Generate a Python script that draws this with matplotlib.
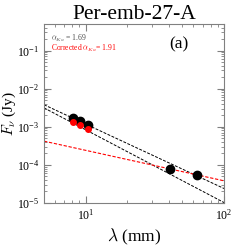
import numpy as np
import matplotlib.pyplot as plt

plt.rcParams['font.family'] = 'serif'
plt.rcParams['font.serif'] = ['Liberation Serif', 'DejaVu Serif']
plt.rcParams['mathtext.fontset'] = 'cm'

# measured fluxes
wave = [8.1, 9.1, 10.3, 40.5, 63.5]          # mm
flux = [1.7e-3, 1.38e-3, 1.13e-3, 7.9e-5, 5.5e-5]  # Jy
wave_corr = [8.1, 9.1, 10.3]
flux_corr = [1.37e-3, 1.13e-3, 8.7e-4]

# power-law fits: (slope, flux at 10 mm)
alpha_ka = 1.69
fit_ka_10 = 1.17e-3
alpha_corr = 1.91
fit_corr_10 = 8.3e-4
alpha_ff = 0.80
fit_ff_10 = 2.4e-4

fig = plt.figure(figsize=(2.49, 2.49), dpi=100)
ax = fig.add_axes([0.177, 0.185, 0.723, 0.719])

lam = np.logspace(np.log10(5), 2, 50)
ax.plot(lam, fit_ka_10 * (lam / 10) ** -alpha_ka, ls=(0, (3, 1.5)), color='k', lw=0.7)
ax.plot(lam, fit_corr_10 * (lam / 10) ** -alpha_corr, ls=(0, (3, 1.5)), color='k', lw=0.7)
ax.plot(lam, fit_ff_10 * (lam / 10) ** -alpha_ff, ls=(0, (3, 1.5)), color='red', lw=0.8)

ax.plot(wave, flux, 'o', color='k', ms=6, zorder=3)
ax.plot(wave_corr, flux_corr, 'o', color='red', ms=4, zorder=4)

ax.set_xscale('log')
ax.set_yscale('log')
ax.set_xlim(5, 100)
ax.set_ylim(1e-5, 0.5)

ax.tick_params(which='both', direction='in', top=True, right=True, color='0.5',
               labelsize=8.5)
ax.tick_params(which='major', length=5)
ax.tick_params(which='minor', length=2.5)
for s in ax.spines.values():
    s.set_color('0.5')
    s.set_linewidth(0.8)

ax.set_title('Per-emb-27-A', fontsize=15.5, pad=2)
ax.set_xlabel(r'$\lambda$ (mm)', fontsize=12.5, labelpad=3)
ax.set_ylabel(r'$F_\nu$ (Jy)', fontsize=11)
ax.yaxis.set_label_coords(-0.145, 0.5)

ax.text(0.04, 0.92, r'$\alpha_{Ka}$ = %.2f' % alpha_ka, transform=ax.transAxes,
        fontsize=5.5, color='0.3', va='center')
ax.text(0.04, 0.865, r'Corrected $\alpha_{Ka}$= %.2f' % alpha_corr, transform=ax.transAxes,
        fontsize=5.5, color='red', va='center')
ax.text(0.75, 0.885, '(a)', transform=ax.transAxes, fontsize=12.5, ha='center', va='center')

fig.savefig('out.png', dpi=100)
